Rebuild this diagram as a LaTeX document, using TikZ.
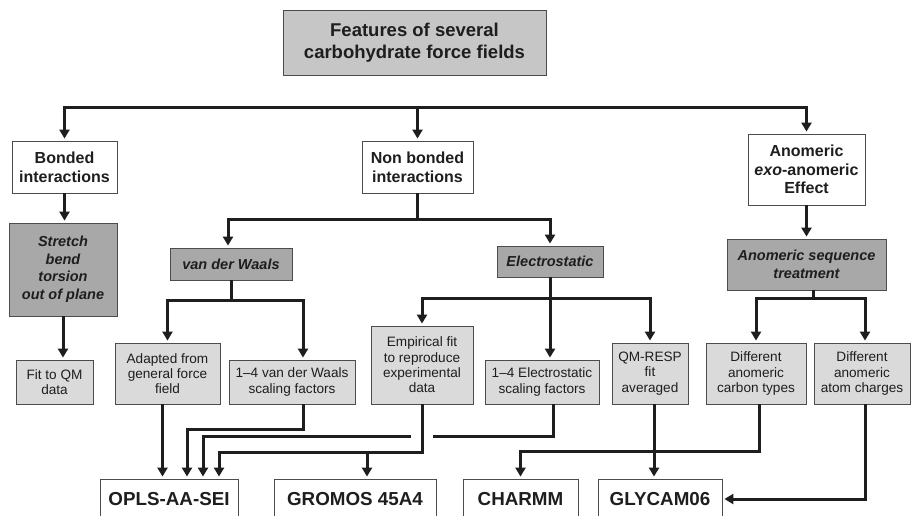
\documentclass[tikz,border=0pt]{standalone}
\usepackage{fontspec}
\setmainfont{Liberation Sans}
\usetikzlibrary{arrows.meta}

\definecolor{boxtitle}{HTML}{C6C6C6}
\definecolor{boxdark}{HTML}{A8A8A8}
\definecolor{boxlight}{HTML}{DADADA}
\definecolor{inkgray}{HTML}{1E1E1E}

\tikzset{
	box/.style={draw=black!70, line width=0.8pt, align=center, inner sep=1pt, text=inkgray},
	titlebox/.style={box, fill=boxtitle, font=\bfseries\fontsize{18.5}{22}\selectfont},
	topicbox/.style={box, fill=white, font=\bfseries\fontsize{16}{18.7}\selectfont},
	featbox/.style={box, fill=boxdark, font=\bfseries\itshape\fontsize{14.5}{17.5}\selectfont},
	detailbox/.style={box, fill=boxlight, font=\fontsize{13.6}{15.3}\selectfont},
	ffbox/.style={box, fill=white, font=\bfseries\fontsize{18.8}{20}\selectfont},
	link/.style={line width=3pt, draw=inkgray},
	arr/.style={link, -{Triangle[length=9pt,width=10pt]}, shorten >=2pt},
	gap/.style={draw=white, line width=22pt},
}

\begin{document}
\begin{tikzpicture}[x=1pt, y=-1pt]
		\useasboundingbox (0,0) rectangle (911,516);

		%the heading of the whole chart
		\node[titlebox, minimum width=263pt, minimum height=65pt] (title) at (414.5,42.5) {Features of several\\carbohydrate force fields};

		%first level: the three kinds of features
		\node[topicbox, minimum width=105pt, minimum height=52pt] (bonded) at (64.5,167) {Bonded\\interactions};
		\node[topicbox, minimum width=111pt, minimum height=52pt] (nonbonded) at (417.5,167) {Non bonded\\interactions};
		\node[topicbox, minimum width=117pt, minimum height=71pt] (anomeric) at (806.5,169.5) {Anomeric\\\textit{exo}-anomeric\\Effect};

		%second level (dark boxes)
		\node[featbox, minimum width=108pt, minimum height=93pt] (stretch) at (63,269.5) {Stretch\\bend\\torsion\\out of plane};
		\node[featbox, minimum width=122pt, minimum height=32pt] (vdw) at (231,264) {van der Waals};
		\node[featbox, minimum width=106pt, minimum height=31pt] (elec) at (550,261.5) {Electrostatic};
		\node[featbox, minimum width=159pt, minimum height=51pt] (seq) at (806.5,264.5) {Anomeric sequence\\treatment};

		%third level (light boxes)
		\node[detailbox, minimum width=77pt, minimum height=44pt] (fitqm) at (54.5,382) {Fit to QM\\data};
		\node[detailbox, minimum width=105pt, minimum height=61pt] (adapted) at (167.5,373.5) {Adapted from\\general force\\field};
		\node[detailbox, minimum width=126pt, minimum height=44pt] (vdwscal) at (292,382) {1–4 van der Waals\\scaling factors};
		\node[detailbox, minimum width=102pt, minimum height=78pt] (empirical) at (422,365) {Empirical fit\\to reproduce\\experimental\\data};
		\node[detailbox, minimum width=114pt, minimum height=44pt] (elscal) at (542,382) {1–4 Electrostatic\\scaling factors};
		\node[detailbox, minimum width=76pt, minimum height=61pt] (resp) at (650,373.5) {QM-RESP\\fit\\averaged};
		\node[detailbox, minimum width=100pt, minimum height=61pt] (carbtypes) at (756,373.5) {Different\\anomeric\\carbon types};
		\node[detailbox, minimum width=96pt, minimum height=61pt] (atomch) at (862,373.5) {Different\\anomeric\\atom charges};

		%the force fields along the bottom (cut off by the page)
		\node[ffbox, minimum width=138pt, minimum height=40pt] (opls) at (169,499) {OPLS-AA-SEI};
		\node[ffbox, minimum width=162pt, minimum height=40pt] (gromos) at (355,499) {GROMOS 45A4};
		\node[ffbox, minimum width=115pt, minimum height=40pt] (charmm) at (520.5,499) {CHARMM};
		\node[ffbox, minimum width=124pt, minimum height=40pt] (glycam) at (660,499) {GLYCAM06};

		%bus under the heading
		\coordinate (bus) at (0,108);
		\draw[arr] (nonbonded.north |- bus) -| (bonded.north);
		\draw[arr] (nonbonded.north |- bus) -| (anomeric.north);
		\draw[arr] (nonbonded.north |- bus) -- (nonbonded.north);

		%first level -> second level
		\draw[arr] (bonded.south) -- (bonded.south |- stretch.north);
		\draw[arr] (anomeric.south) -- (anomeric.south |- seq.north);
		\coordinate (nbj) at (nonbonded.south |- 0,220);
		\draw[link] (nonbonded.south) -- (nbj);
		\draw[arr] (nbj) -| ([xshift=-3pt]vdw.north);
		\draw[arr] (nbj) -| (elec.north);

		%second level -> third level
		\draw[arr] (stretch.south) -- (stretch.south |- fitqm.north);
		\coordinate (vdwj) at (vdw.south |- 0,300);
		\draw[link] (vdw.south) -- (vdwj);
		\draw[arr] (vdwj) -| (adapted.north);
		\draw[arr] (vdwj) -| ([xshift=11pt]vdwscal.north);
		\draw[arr] (elec.south) -- (elec.south |- elscal.north);
		\draw[arr] (elec.south |- 0,298) -| (empirical.north);
		\draw[arr] (elec.south |- 0,298) -| (resp.north);
		\coordinate (seqj) at ([xshift=7pt]seq.south |- 0,298);
		\draw[link] ([xshift=7pt]seq.south) -- (seqj);
		\draw[arr] (seqj) -| (carbtypes.north);
		\draw[arr] (seqj) -| ([xshift=3pt]atomch.north);

		%third level -> force fields
		\coordinate (in2) at ([xshift=18pt]opls.north);
		\coordinate (in3) at ([xshift=34pt]opls.north);
		\coordinate (in4) at ([xshift=50pt]opls.north);
		\draw[arr] ([xshift=-5pt]adapted.south) -- ([xshift=-5pt]adapted.south |- opls.north);
		\draw[arr] ([xshift=11pt]vdwscal.south) -- ++(0,25) -| (in2);
		\draw[arr] ([xshift=11pt]elscal.south) -- ++(0,32) -| (in3);
		\draw[gap] ([yshift=-26pt]empirical.south) -- ++(0,12);
		\coordinate (empj) at ([yshift=-48pt]empirical.south);
		\draw[arr] (empirical.south) -- (empj) -| (in4);
		\draw[arr] ([xshift=12pt]gromos.north |- empj) -- ([xshift=12pt]gromos.north);
		\draw[arr] ([xshift=3pt]carbtypes.south) -- ++(0,47) -| (charmm.north);
		\draw[arr] ([xshift=4pt]resp.south) -- ([xshift=4pt]resp.south |- glycam.north);
		\draw[arr] ([xshift=3pt]atomch.south) |- (glycam.east);
	\end{tikzpicture}
\end{document}
